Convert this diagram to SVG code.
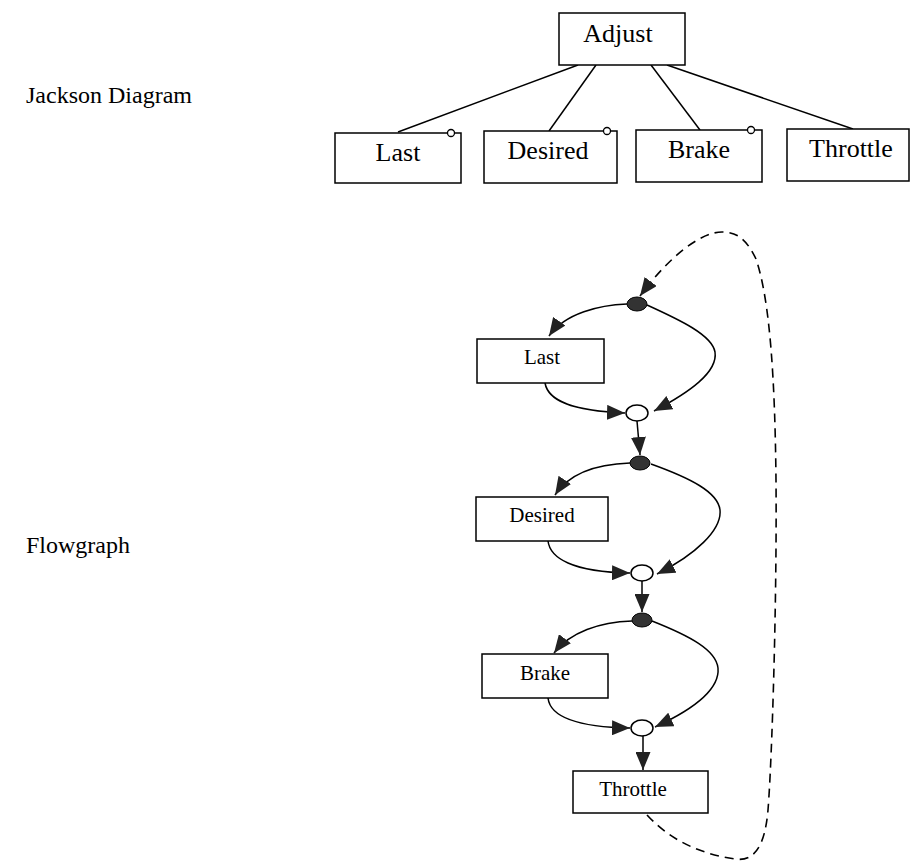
<svg xmlns="http://www.w3.org/2000/svg" width="911" height="863" viewBox="0 0 911 863">
<defs>
<marker id="ah" markerUnits="userSpaceOnUse" markerWidth="19" markerHeight="15" refX="18" refY="7.5" orient="auto">
<path d="M0,0 L18,7.5 L0,15 z" fill="#222"/>
</marker>
<style>
.box{fill:#fff;stroke:#000;stroke-width:1.5}
.jt{font-family:"Liberation Serif","Times New Roman",serif;font-size:26px;fill:#000;text-anchor:middle}
.ft{font-family:"Liberation Serif","Times New Roman",serif;font-size:21px;fill:#000;text-anchor:middle}
.lbl{font-family:"Liberation Serif","Times New Roman",serif;font-size:24px;fill:#000}
.ln{fill:none;stroke:#000;stroke-width:1.5}
.arr{fill:none;stroke:#000;stroke-width:1.5;marker-end:url(#ah)}
.dash{fill:none;stroke:#000;stroke-width:1.6;stroke-dasharray:9,6}
.bn{fill:#333;stroke:#000;stroke-width:1}
.on{fill:#fff;stroke:#000;stroke-width:1.5}
.sc{fill:#fff;stroke:#000;stroke-width:1.3}
</style>
</defs>
<rect width="911" height="863" fill="#fff"/>

<text class="lbl" x="26" y="103">Jackson Diagram</text>
<text class="lbl" x="26" y="553">Flowgraph</text>

<g id="jackson-connectors">
<line class="ln" x1="578" y1="65" x2="398" y2="132"/>
<line class="ln" x1="596" y1="65" x2="549" y2="131"/>
<line class="ln" x1="651" y1="65" x2="700" y2="130"/>
<line class="ln" x1="667" y1="65" x2="853" y2="129"/>
</g>

<g id="j-adjust"><rect class="box" x="559" y="13" width="126" height="52"/><text class="jt" x="618" y="42">Adjust</text></g>
<g id="j-last"><rect class="box" x="335" y="133" width="126" height="50"/><circle class="sc" cx="451" cy="133" r="3.5"/><text class="jt" x="398" y="161">Last</text></g>
<g id="j-desired"><rect class="box" x="484" y="131" width="133" height="52"/><circle class="sc" cx="607" cy="131" r="3.5"/><text class="jt" x="548" y="159">Desired</text></g>
<g id="j-brake"><rect class="box" x="636" y="130" width="126" height="52"/><circle class="sc" cx="751" cy="130" r="3.5"/><text class="jt" x="699" y="158">Brake</text></g>
<g id="j-throttle"><rect class="box" x="787" y="129" width="122" height="52"/><text class="jt" x="851" y="157">Throttle</text></g>

<g id="flow-connectors">
<path class="arr" d="M627,304 C600,305 565,313 549,336"/>
<path class="arr" d="M647,305 C680,320 712,335 715,352 C718,372 690,392 654,411"/>
<path class="arr" d="M545,383 C548,400 570,411 625,413"/>
<path class="arr" d="M637,421 L640,455"/>

<path class="arr" d="M630,463 C600,464 570,472 555,495"/>
<path class="arr" d="M651,464 C690,478 718,492 720,510 C722,530 695,555 657,574"/>
<path class="arr" d="M548,541 C550,558 572,572 630,573"/>
<path class="arr" d="M642,581 L642,612"/>

<path class="arr" d="M632,621 C600,622 570,632 554,653"/>
<path class="arr" d="M652,621 C690,636 716,650 718,668 C720,690 692,710 655,727"/>
<path class="arr" d="M548,698 C550,715 572,727 630,728"/>
<path class="arr" d="M643,736 L643,770"/>

<path class="dash" marker-end="url(#ah)" d="M647,815 C670,840 700,854 735,859 C755,862 765,845 768,810 C772,760 777,600 776,480 C775,380 770,300 756,259 C746,238 736,232 722,232 C700,232 668,258 640,296"/>
</g>

<g id="f-b1"><ellipse class="bn" cx="637" cy="304" rx="10" ry="7"/></g>
<g id="f-last"><rect class="box" x="477" y="339" width="127" height="44"/><text class="ft" x="542" y="364">Last</text></g>
<g id="f-o1"><ellipse class="on" cx="637" cy="413" rx="11" ry="8"/></g>

<g id="f-b2"><ellipse class="bn" cx="640" cy="463" rx="10" ry="7"/></g>
<g id="f-desired"><rect class="box" x="476" y="497" width="132" height="44"/><text class="ft" x="542" y="522">Desired</text></g>
<g id="f-o2"><ellipse class="on" cx="642" cy="573" rx="11" ry="8"/></g>

<g id="f-b3"><ellipse class="bn" cx="642" cy="620" rx="10" ry="7"/></g>
<g id="f-brake"><rect class="box" x="482" y="654" width="126" height="44"/><text class="ft" x="545" y="680">Brake</text></g>
<g id="f-o3"><ellipse class="on" cx="642" cy="728" rx="11" ry="8"/></g>

<g id="f-throttle"><rect class="box" x="573" y="771" width="135" height="42"/><text class="ft" x="633" y="796">Throttle</text></g>
</svg>
